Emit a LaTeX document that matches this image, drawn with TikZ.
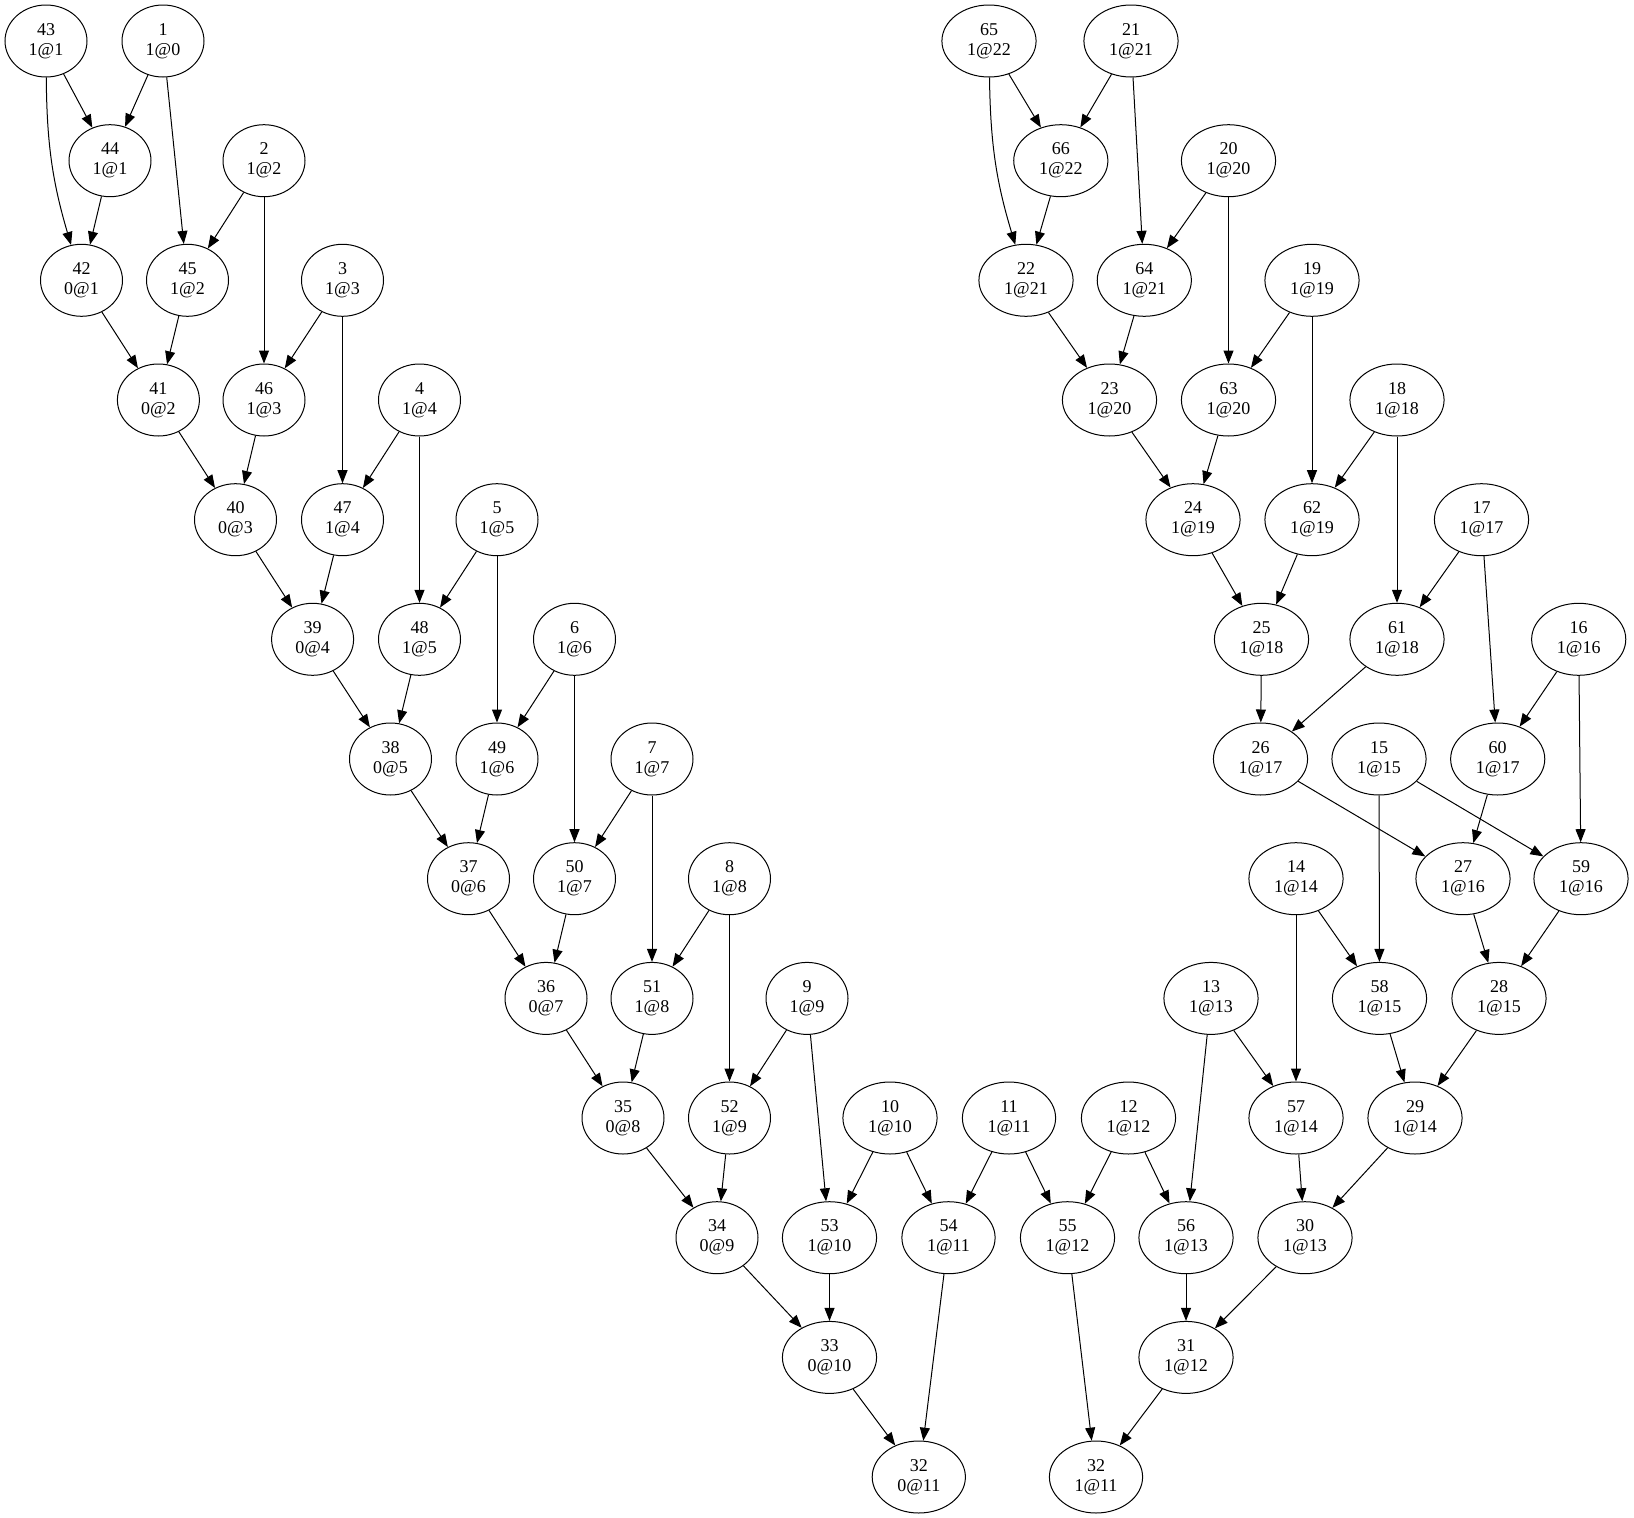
\documentclass[tikz,border=0pt]{standalone}
\usepackage{fontspec}
\setmainfont{Liberation Serif}
\usetikzlibrary{arrows.meta,shapes.geometric}
\begin{document}
\begin{tikzpicture}[x=1pt,y=-1pt,
    vx/.style={draw, ellipse, line width=1pt, align=center, minimum width=82pt, minimum height=72pt,
        inner xsep=11.5pt, inner ysep=2pt, font=\fontsize{18}{20}\selectfont},
    every path/.style={line width=1pt},
    >={Triangle[length=13pt,width=10pt]}]
    \useasboundingbox (0,0) rectangle (1634,1518);
	% left part
	\node[vx] (n43) at (46, 41) {43\\1@1};
	\node[vx] (n1) at (163, 41) {1\\1@0};
	\node[vx] (n44) at (110, 160.7) {44\\1@1};
	\node[vx] (n2) at (264, 160.7) {2\\1@2};
	\node[vx] (n42) at (81.5, 280.3) {42\\0@1};
	\node[vx] (n45) at (187.5, 280.3) {45\\1@2};
	\node[vx] (n3) at (342.5, 280.3) {3\\1@3};
	\node[vx] (n41) at (158.4, 400) {41\\0@2};
	\node[vx] (n46) at (264, 400) {46\\1@3};
	\node[vx] (n4) at (419.5, 400) {4\\1@4};
	\node[vx] (n40) at (235.5, 519.7) {40\\0@3};
	\node[vx] (n47) at (342.5, 519.7) {47\\1@4};
	\node[vx] (n5) at (497, 519.7) {5\\1@5};
	\node[vx] (n39) at (312.6, 639.3) {39\\0@4};
	\node[vx] (n48) at (419.5, 639.3) {48\\1@5};
	\node[vx] (n6) at (574.5, 639.3) {6\\1@6};
	\node[vx] (n38) at (390.5, 759) {38\\0@5};
	\node[vx] (n49) at (497, 759) {49\\1@6};
	\node[vx] (n7) at (652, 759) {7\\1@7};
	\node[vx] (n37) at (468.5, 878.7) {37\\0@6};
	\node[vx] (n50) at (574.5, 878.7) {50\\1@7};
	\node[vx] (n8) at (729.5, 878.7) {8\\1@8};
	\node[vx] (n36) at (546, 998.4) {36\\0@7};
	\node[vx] (n51) at (652, 998.4) {51\\1@8};
	\node[vx] (n9) at (807, 998.4) {9\\1@9};
	\node[vx] (n35) at (623, 1118) {35\\0@8};
	\node[vx] (n52) at (729.5, 1118) {52\\1@9};
	\node[vx] (n10) at (890, 1118) {10\\1@10};
	\node[vx] (n11) at (1009, 1118) {11\\1@11};
	\node[vx] (n12) at (1128.5, 1118) {12\\1@12};
	\node[vx] (n34) at (717, 1237.7) {34\\0@9};
	\node[vx] (n53) at (829.5, 1237.7) {53\\1@10};
	\node[vx] (n54) at (948.5, 1237.7) {54\\1@11};
	\node[vx] (n55) at (1067.5, 1237.7) {55\\1@12};
	\node[vx] (n56) at (1186, 1237.7) {56\\1@13};
	\node[vx] (n33) at (829.5, 1357.4) {33\\0@10};
	\node[vx] (n32a) at (918.8, 1477) {32\\0@11};
	\node[vx] (n32b) at (1096, 1477) {32\\1@11};
	% right part
	\node[vx] (n65) at (989, 41) {65\\1@22};
	\node[vx] (n21) at (1131, 41) {21\\1@21};
	\node[vx] (n66) at (1060.8, 160.7) {66\\1@22};
	\node[vx] (n20) at (1228.5, 160.7) {20\\1@20};
	\node[vx] (n22) at (1026, 280.3) {22\\1@21};
	\node[vx] (n64) at (1144.3, 280.3) {64\\1@21};
	\node[vx] (n19) at (1312, 280.3) {19\\1@19};
	\node[vx] (n23) at (1109.5, 400) {23\\1@20};
	\node[vx] (n63) at (1228.5, 400) {63\\1@20};
	\node[vx] (n18) at (1397, 400) {18\\1@18};
	\node[vx] (n24) at (1193, 519.7) {24\\1@19};
	\node[vx] (n62) at (1312, 519.7) {62\\1@19};
	\node[vx] (n17) at (1481.5, 519.7) {17\\1@17};
	\node[vx] (n25) at (1261.5, 639.3) {25\\1@18};
	\node[vx] (n61) at (1397, 639.3) {61\\1@18};
	\node[vx] (n16) at (1578.7, 639.3) {16\\1@16};
	\node[vx] (n26) at (1260.5, 759) {26\\1@17};
	\node[vx] (n15) at (1379, 759) {15\\1@15};
	\node[vx] (n60) at (1497.7, 759) {60\\1@17};
	\node[vx] (n14) at (1296, 878.7) {14\\1@14};
	\node[vx] (n27) at (1463, 878.7) {27\\1@16};
	\node[vx] (n59) at (1581, 878.7) {59\\1@16};
	\node[vx] (n13) at (1211, 998.4) {13\\1@13};
	\node[vx] (n58) at (1379.5, 998.4) {58\\1@15};
	\node[vx] (n28) at (1499, 998.4) {28\\1@15};
	\node[vx] (n57) at (1296, 1118) {57\\1@14};
	\node[vx] (n29) at (1415, 1118) {29\\1@14};
	\node[vx] (n30) at (1305, 1237.7) {30\\1@13};
	\node[vx] (n31) at (1186, 1357.4) {31\\1@12};
	% edges, left
	\draw[->] (n43) -- (n44);
	\draw[->] (n43) to[bend right=8] (n42);
	\draw[->] (n1) -- (n44);
	\draw[->] (n1) -- (n45);
	\draw[->] (n44) -- (n42);
	\draw[->] (n2) -- (n45);
	\draw[->] (n2) -- (n46);
	\draw[->] (n42) -- (n41);
	\draw[->] (n45) -- (n41);
	\draw[->] (n3) -- (n46);
	\draw[->] (n3) -- (n47);
	\draw[->] (n41) -- (n40);
	\draw[->] (n46) -- (n40);
	\draw[->] (n4) -- (n47);
	\draw[->] (n4) -- (n48);
	\draw[->] (n40) -- (n39);
	\draw[->] (n47) -- (n39);
	\draw[->] (n5) -- (n48);
	\draw[->] (n5) -- (n49);
	\draw[->] (n39) -- (n38);
	\draw[->] (n48) -- (n38);
	\draw[->] (n6) -- (n49);
	\draw[->] (n6) -- (n50);
	\draw[->] (n38) -- (n37);
	\draw[->] (n49) -- (n37);
	\draw[->] (n7) -- (n50);
	\draw[->] (n7) -- (n51);
	\draw[->] (n37) -- (n36);
	\draw[->] (n50) -- (n36);
	\draw[->] (n8) -- (n51);
	\draw[->] (n8) -- (n52);
	\draw[->] (n36) -- (n35);
	\draw[->] (n51) -- (n35);
	\draw[->] (n9) -- (n52);
	\draw[->] (n9) -- (n53);
	\draw[->] (n35) -- (n34);
	\draw[->] (n52) -- (n34);
	\draw[->] (n10) -- (n53);
	\draw[->] (n10) -- (n54);
	\draw[->] (n11) -- (n54);
	\draw[->] (n11) -- (n55);
	\draw[->] (n12) -- (n55);
	\draw[->] (n12) -- (n56);
	\draw[->] (n34) -- (n33);
	\draw[->] (n53) -- (n33);
	\draw[->] (n33) -- (n32a);
	\draw[->] (n54) -- (n32a);
	\draw[->] (n55) -- (n32b);
	\draw[->] (n31) -- (n32b);
	% edges, right
	\draw[->] (n65) -- (n66);
	\draw[->] (n65) to[bend right=8] (n22);
	\draw[->] (n21) -- (n66);
	\draw[->] (n21) -- (n64);
	\draw[->] (n66) -- (n22);
	\draw[->] (n20) -- (n64);
	\draw[->] (n20) -- (n63);
	\draw[->] (n22) -- (n23);
	\draw[->] (n64) -- (n23);
	\draw[->] (n19) -- (n63);
	\draw[->] (n19) -- (n62);
	\draw[->] (n23) -- (n24);
	\draw[->] (n63) -- (n24);
	\draw[->] (n18) -- (n62);
	\draw[->] (n18) -- (n61);
	\draw[->] (n24) -- (n25);
	\draw[->] (n62) -- (n25);
	\draw[->] (n17) -- (n61);
	\draw[->] (n17) -- (n60);
	\draw[->] (n25) -- (n26);
	\draw[->] (n61) -- (n26);
	\draw[->] (n16) -- (n60);
	\draw[->] (n16) -- (n59);
	\draw[->] (n26) -- (n27);
	\draw[->] (n60) -- (n27);
	\draw[->] (n15) -- (n59);
	\draw[->] (n15) -- (n58);
	\draw[->] (n14) -- (n58);
	\draw[->] (n14) -- (n57);
	\draw[->] (n27) -- (n28);
	\draw[->] (n59) -- (n28);
	\draw[->] (n13) -- (n57);
	\draw[->] (n13) -- (n56);
	\draw[->] (n58) -- (n29);
	\draw[->] (n28) -- (n29);
	\draw[->] (n57) -- (n30);
	\draw[->] (n29) -- (n30);
	\draw[->] (n56) -- (n31);
	\draw[->] (n30) -- (n31);
\end{tikzpicture}
\end{document}
